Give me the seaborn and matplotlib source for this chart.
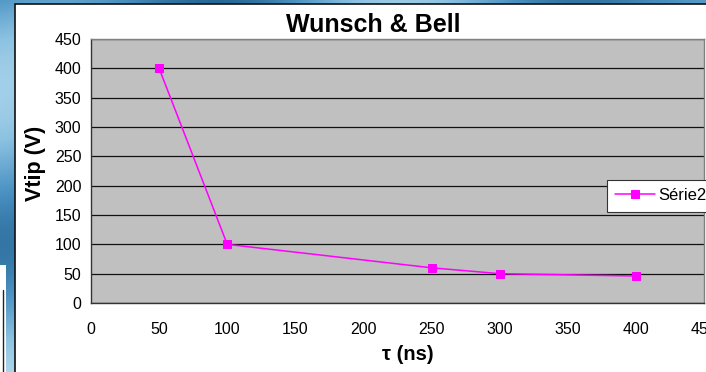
import numpy as np
import pandas as pd
import matplotlib
matplotlib.use("Agg")
import matplotlib.pyplot as plt
from matplotlib.patches import Rectangle
from matplotlib.colors import LinearSegmentedColormap
import seaborn as sns

# Pulse duration (ns) vs tip voltage (V)
tau_ns = [50, 100, 250, 300, 400]
vtip_v = [400, 100, 60, 50, 46]
series_name = "Série2"
title = "Wunsch & Bell"
x_label = "τ (ns)"
y_label = "Vtip (V)"
x_ticks = [0, 50, 100, 150, 200, 250, 300, 350, 400, 450]
y_ticks = [0, 50, 100, 150, 200, 250, 300, 350, 400, 450]

df = pd.DataFrame({"tau": tau_ns, "vtip": vtip_v, "serie": series_name})

sns.set_style("white")
plt.rcParams["font.family"] = ["Liberation Sans", "DejaVu Sans"]
plt.rcParams["text.color"] = "black"

W, H = 706, 372
fig = plt.figure(figsize=(W / 100, H / 100), dpi=100)

# Slide background behind the chart
bg = fig.add_axes([0, 0, 1, 1])
bg.set_axis_off()
yy = np.linspace(0, 1, 200)[:, None]
xx = np.linspace(0, 1, 200)[None, :]
grad = 0.5 + 0.3 * np.sin(yy * 7 + xx * 3) * np.cos(xx * 11) + 0.2 * yy
cmap = LinearSegmentedColormap.from_list("slide", ["#1f5f8f", "#4d94c4", "#8cc2e2", "#b9dcef"])
bg.imshow(grad, cmap=cmap, aspect="auto", extent=[0, W, H, 0])
bg.set_xlim(0, W)
bg.set_ylim(H, 0)
# white chart panel
bg.add_patch(Rectangle((15, 4), W, H, facecolor="white", edgecolor="#111111", linewidth=1.2))
# small white card at bottom-left
bg.add_patch(Rectangle((-2, 265), 8, 120, facecolor="white", edgecolor="none"))
bg.plot([3, 3], [290, 372], color="#222222", lw=1.0)

ax = fig.add_axes([91 / W, 1 - 303 / H, (704 - 91) / W, (303 - 39) / H])
ax.set_facecolor("#C0C0C0")

sns.lineplot(data=df, x="tau", y="vtip", hue="serie", palette=["#FF00FF"],
             marker="s", markersize=6, markeredgecolor="#FF00FF",
             linewidth=1.1, ax=ax, legend=True)

ax.set_xlim(0, 450)
ax.set_ylim(0, 450)
ax.set_xticks(x_ticks)
ax.set_yticks(y_ticks)
ax.yaxis.grid(True, color="#111111", linewidth=0.9)
ax.xaxis.grid(False)
ax.set_axisbelow(True)

for side in ["top", "right"]:
    ax.spines[side].set_visible(True)
    ax.spines[side].set_color("#808080")
    ax.spines[side].set_linewidth(1.0)
for side in ["left", "bottom"]:
    ax.spines[side].set_color("#333333")
    ax.spines[side].set_linewidth(1.0)

ax.tick_params(axis="both", which="major", direction="out", length=4,
               width=1, color="#333333", labelsize=11.5, labelcolor="black")
ax.tick_params(axis="x", pad=10)
ax.tick_params(axis="y", pad=3)
ax.set_xlabel("")
ax.set_ylabel("")

fig.text(373 / W, 1 - 25.5 / H, title, ha="center", va="center",
         fontsize=18, fontweight="bold", color="black")
fig.text(408 / W, 1 - 355 / H, x_label, ha="center", va="center",
         fontsize=14.5, fontweight="bold", color="black")
fig.text(35 / W, 1 - 163.5 / H, y_label, ha="center", va="center",
         rotation=90, fontsize=15.5, fontweight="bold", color="black")

handles, labels = ax.get_legend_handles_labels()
leg = ax.legend(handles, labels, loc="upper left",
                bbox_to_anchor=(607 / W, 1 - 180 / H), bbox_transform=fig.transFigure,
                frameon=True, fancybox=False, edgecolor="#333333", framealpha=1,
                fontsize=12, borderpad=0.5, handlelength=2.35, handletextpad=0.2,
                borderaxespad=0)
leg.get_frame().set_linewidth(0.8)
for t in leg.get_texts():
    t.set_color("black")

fig.savefig("out.png", dpi=100)
